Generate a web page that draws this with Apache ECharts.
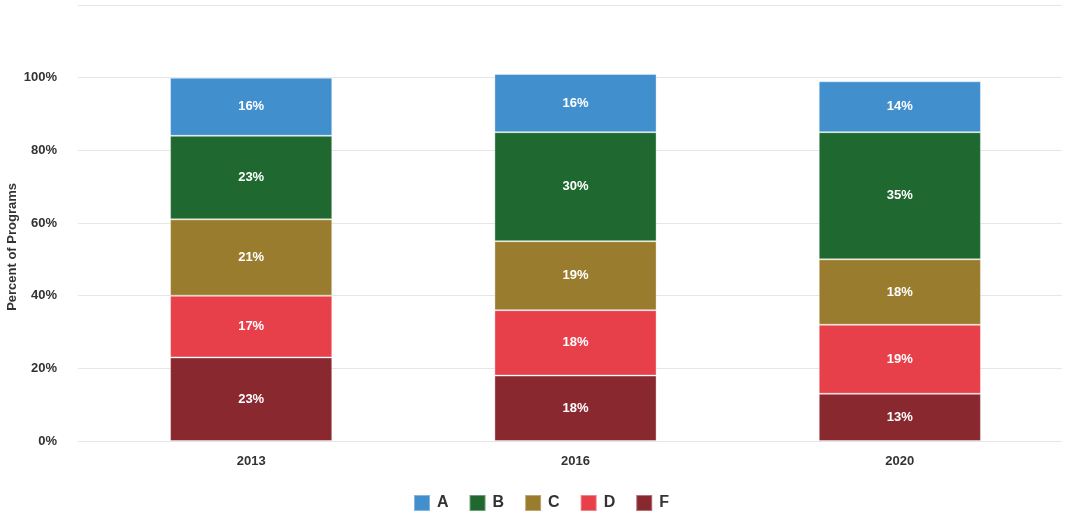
<!DOCTYPE html>
<html>
<head>
<meta charset="utf-8">
<script src="https://cdn.jsdelivr.net/npm/echarts@6/dist/echarts.min.js"></script>
<style>
    html, body { margin: 0; padding: 0; background: #fff; }
    #chart { width: 1066px; height: 524px; }
</style>
</head>
<body>
<div id="chart"></div>
<script>
var years = ['2013', '2016', '2020'];
var gradeF = [23, 18, 13];
var gradeD = [17, 18, 19];
var gradeC = [21, 19, 18];
var gradeB = [23, 30, 35];
var gradeA = [16, 16, 14];
var yTicks = [0, 20, 40, 60, 80, 100, 120];

var myChart = echarts.init(document.getElementById('chart'));
var font = 'Liberation Sans, Arial, sans-serif';

function seg(name, data, color) {
    return {
        name: name,
        type: 'bar',
        stack: 'total',
        barWidth: '50%',
        data: data,
        itemStyle: {
            color: color,
            borderColor: 'rgba(255,255,255,0.35)',
            borderWidth: 1
        },
        label: {
            show: true,
            position: 'inside',
            formatter: '{c}%',
            color: '#fff',
            fontWeight: 'bold',
            fontSize: 13,
            fontFamily: font
        }
    };
}

var option = {
    animation: false,
    textStyle: { fontFamily: font },
    // grid 1 only draws the gridlines, which reach a bit further left
    grid: [
        { left: 89, right: 4, top: 5, bottom: 83 },
        { left: 78, right: 4, top: 5, bottom: 83 }
    ],
    legend: {
        bottom: 7,
        left: 408,
        itemWidth: 16,
        itemHeight: 16,
        itemGap: 20,
        icon: 'rect',
        data: ['A', 'B', 'C', 'D', 'F'],
        textStyle: { color: '#333', fontWeight: 'bold', fontSize: 16, padding: [0, 0, 0, 2] }
    },
    xAxis: [{
        type: 'category',
        data: years,
        axisLine: { show: false },
        axisTick: { show: false },
        axisLabel: { color: '#333', fontWeight: 'bold', fontSize: 13, margin: 14 }
    }, {
        gridIndex: 1,
        type: 'value',
        show: false
    }],
    yAxis: [{
        type: 'value',
        min: yTicks[0],
        max: yTicks[yTicks.length - 1],
        interval: 20,
        axisLabel: {
            color: '#333',
            fontWeight: 'bold',
            fontSize: 13,
            margin: 32,
            formatter: function (v) { return v >= 120 ? '' : v + '%'; }
        },
        splitLine: { show: false }
    }, {
        gridIndex: 1,
        type: 'value',
        min: yTicks[0],
        max: yTicks[yTicks.length - 1],
        interval: 20,
        axisLabel: { show: false },
        axisLine: { show: false },
        axisTick: { show: false },
        splitLine: { lineStyle: { color: '#e6e6e6' } }
    }],
    graphic: [{
        type: 'text',
        left: 6,
        top: 183,
        rotation: Math.PI / 2,
        style: {
            text: 'Percent of Programs',
            fill: '#333',
            font: 'bold 13px ' + font
        }
    }],
    series: [
        seg('F', gradeF, '#8a2830'),
        seg('D', gradeD, '#e8404a'),
        seg('C', gradeC, '#9a7c2e'),
        seg('B', gradeB, '#1f6930'),
        seg('A', gradeA, '#428fcd')
    ]
};

myChart.setOption(option);
</script>
</body>
</html>
